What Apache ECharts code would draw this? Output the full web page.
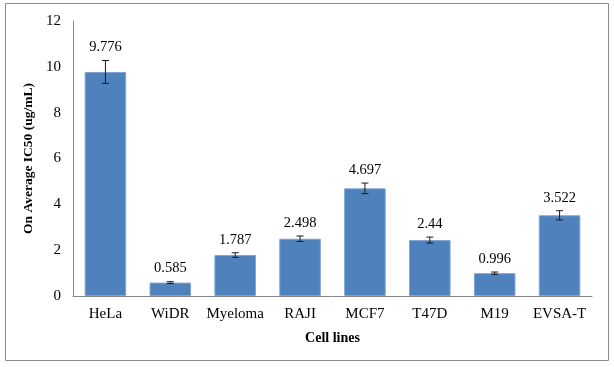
<!DOCTYPE html>
<html><head><meta charset="utf-8">
<script src="https://cdn.jsdelivr.net/npm/echarts@6/dist/echarts.min.js"></script>
<style>html,body{margin:0;padding:0;background:#fff}#c{width:614px;height:367px}</style>
</head><body><div id="c"></div>
<script>
var categories = ["HeLa","WiDR","Myeloma","RAJI","MCF7","T47D","M19","EVSA-T"];
var values = [9.776,0.585,1.787,2.498,4.697,2.44,0.996,3.522];
var errors = [0.5,0.04,0.1,0.12,0.23,0.13,0.05,0.2];
var labels = ["9.776","0.585","1.787","2.498","4.697","2.44","0.996","3.522"];

var font = '"Liberation Serif","Times New Roman",serif';
var chart = echarts.init(document.getElementById('c'), null, {renderer:'canvas'});
var errData = values.map(function(v,i){return [i, v-errors[i], v+errors[i], labels[i]];});
chart.setOption({
  animation:false,
  graphic:[{type:'rect',shape:{x:5.5,y:3.5,width:603,height:357},style:{fill:'none',stroke:'#8c8c8c',lineWidth:1},z:-1}],
  grid:{left:73,right:22,top:21,bottom:71},
  xAxis:{type:'category',data:categories,
    axisLine:{lineStyle:{color:'#868686'}},axisTick:{show:false},
    axisLabel:{color:'#000',fontFamily:font,fontSize:15,margin:11,interval:0,hideOverlap:false},
    name:'Cell lines',nameLocation:'middle',nameGap:35,
    nameTextStyle:{color:'#000',fontFamily:font,fontSize:14,fontWeight:'bold'}},
  yAxis:{type:'value',min:0,max:12,interval:2,
    axisLine:{show:true,lineStyle:{color:'#868686'}},axisTick:{show:false},splitLine:{show:false},
    axisLabel:{color:'#000',fontFamily:font,fontSize:15,margin:12},
    name:'On Average IC50 (ug/mL)',nameLocation:'middle',nameGap:33,
    nameTextStyle:{color:'#000',fontFamily:font,fontSize:13.5,fontWeight:'bold'}},
  series:[
    {type:'bar',data:values,barCategoryGap:'36%',
     itemStyle:{color:'#4F81BD',borderColor:'#7fa3d3',borderWidth:1}},
    {type:'custom',data:errData,z:10,
     renderItem:function(params,api){
       var x=api.value(0),lo=api.coord([x,api.value(1)]),hi=api.coord([x,api.value(2)]);
       var w=3.5;
       return {type:'group',children:[
         {type:'line',shape:{x1:lo[0],y1:lo[1],x2:hi[0],y2:hi[1]},style:{stroke:'#1a1a1a',lineWidth:1}},
         {type:'line',shape:{x1:lo[0]-w,y1:lo[1],x2:lo[0]+w,y2:lo[1]},style:{stroke:'#1a1a1a',lineWidth:1}},
         {type:'line',shape:{x1:hi[0]-w,y1:hi[1],x2:hi[0]+w,y2:hi[1]},style:{stroke:'#1a1a1a',lineWidth:1}},
         {type:'text',x:hi[0],y:hi[1]-13,style:{text:api.value(3),fill:'#000',font:'14.5px '+font,align:'center',verticalAlign:'middle'}}
       ]};
     }}
  ]
});
</script></body></html>
